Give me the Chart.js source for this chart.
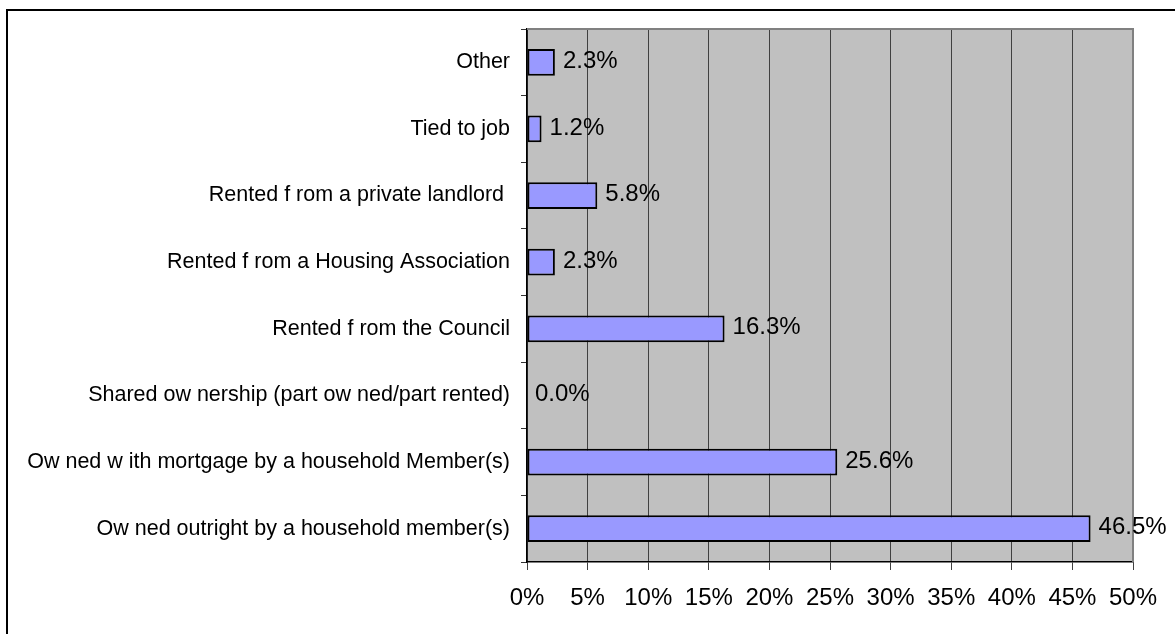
<!DOCTYPE html>
<html>
<head>
<meta charset="utf-8">
<script src="https://cdn.jsdelivr.net/npm/chart.js@4.4.1/dist/chart.umd.min.js"></script>
<style>
    html, body { margin: 0; padding: 0; background: #fff; overflow: hidden; }
    #frame {
        position: absolute; left: 6px; top: 9px;
        width: 1400px; height: 900px;
        border: 2px solid #000;
    }
    #wrap { position: absolute; left: 0; top: 0; width: 1175px; height: 634px; }
</style>
</head>
<body>
<div id="frame"></div>
<div id="wrap"><canvas id="tenureChart"></canvas></div>
<script>
// Tenure categories, listed top to bottom
const categories = [
    'Other',
    'Tied to job',
    'Rented f rom a private landlord ',
    'Rented f rom a Housing Association',
    'Rented f rom the Council',
    'Shared ow nership (part ow ned/part rented)',
    'Ow ned w ith mortgage by a household Member(s)',
    'Ow ned outright by a household member(s)'
];
const percentages = [2.3, 1.2, 5.8, 2.3, 16.3, 0.0, 25.6, 46.5];
const xTicks = [0, 5, 10, 15, 20, 25, 30, 35, 40, 45, 50];

const FONT = "'Liberation Sans', Arial, sans-serif";

document.addEventListener('DOMContentLoaded', () => {
    const ctx = document.getElementById('tenureChart').getContext('2d');

    // grey plot area with darker top/right edge
    const plotBackground = {
        id: 'plotBackground',
        beforeDraw(chart) {
            const { ctx, chartArea: a } = chart;
            ctx.save();
            ctx.fillStyle = '#C0C0C0';
            ctx.fillRect(a.left, a.top, a.right - a.left, a.bottom - a.top);
            ctx.restore();
        },
        beforeDatasetsDraw(chart) {
            const { ctx, chartArea: a } = chart;
            ctx.save();
            ctx.strokeStyle = '#808080';
            ctx.lineWidth = 2;
            ctx.beginPath();
            ctx.moveTo(a.left, a.top);
            ctx.lineTo(a.right, a.top);
            ctx.lineTo(a.right, a.bottom);
            ctx.stroke();
            ctx.restore();
        }
    };

    // percentage label just past the end of each bar
    const valueLabels = {
        id: 'valueLabels',
        afterDatasetsDraw(chart) {
            const { ctx } = chart;
            const meta = chart.getDatasetMeta(0);
            ctx.save();
            ctx.font = `24px ${FONT}`;
            ctx.fillStyle = '#000';
            ctx.textAlign = 'left';
            ctx.textBaseline = 'middle';
            meta.data.forEach((bar, i) => {
                ctx.fillText(percentages[i].toFixed(1) + '%', bar.x + 8, bar.y - 1);
            });
            ctx.restore();
        }
    };

    new Chart(ctx, {
        type: 'bar',
        data: {
            labels: categories,
            datasets: [{
                data: percentages,
                backgroundColor: '#9999FF',
                borderColor: '#000',
                borderWidth: 2,
                borderSkipped: false,
                barPercentage: 0.4,
                categoryPercentage: 1
            }]
        },
        options: {
            indexAxis: 'y',
            responsive: true,
            maintainAspectRatio: false,
            animation: false,
            devicePixelRatio: 1,
            layout: { padding: { left: 0, top: 29, right: 42, bottom: 0 } },
            plugins: {
                legend: { display: false },
                tooltip: { enabled: false }
            },
            scales: {
                x: {
                    min: 0,
                    max: 50,
                    afterBuildTicks: (scale) => {
                        scale.ticks = xTicks.map(v => ({ value: v }));
                    },
                    afterFit: (scale) => { scale.height = 72; },
                    grid: {
                        color: '#404040',
                        lineWidth: 1,
                        tickLength: 8
                    },
                    border: { color: '#000', width: 1.5 },
                    ticks: {
                        color: '#000',
                        padding: 14,
                        maxRotation: 0,
                        font: { family: FONT, size: 24 },
                        callback: (v) => v + '%'
                    }
                },
                y: {
                    afterFit: (scale) => { scale.width = 527; },
                    grid: {
                        drawOnChartArea: false,
                        color: '#333',
                        tickLength: 6,
                        offset: true
                    },
                    border: { color: '#000', width: 1.5 },
                    ticks: {
                        color: '#000',
                        padding: 11,
                        font: { family: FONT, size: 21.5 }
                    }
                }
            }
        },
        plugins: [plotBackground, valueLabels]
    });
});
</script>
</body>
</html>
